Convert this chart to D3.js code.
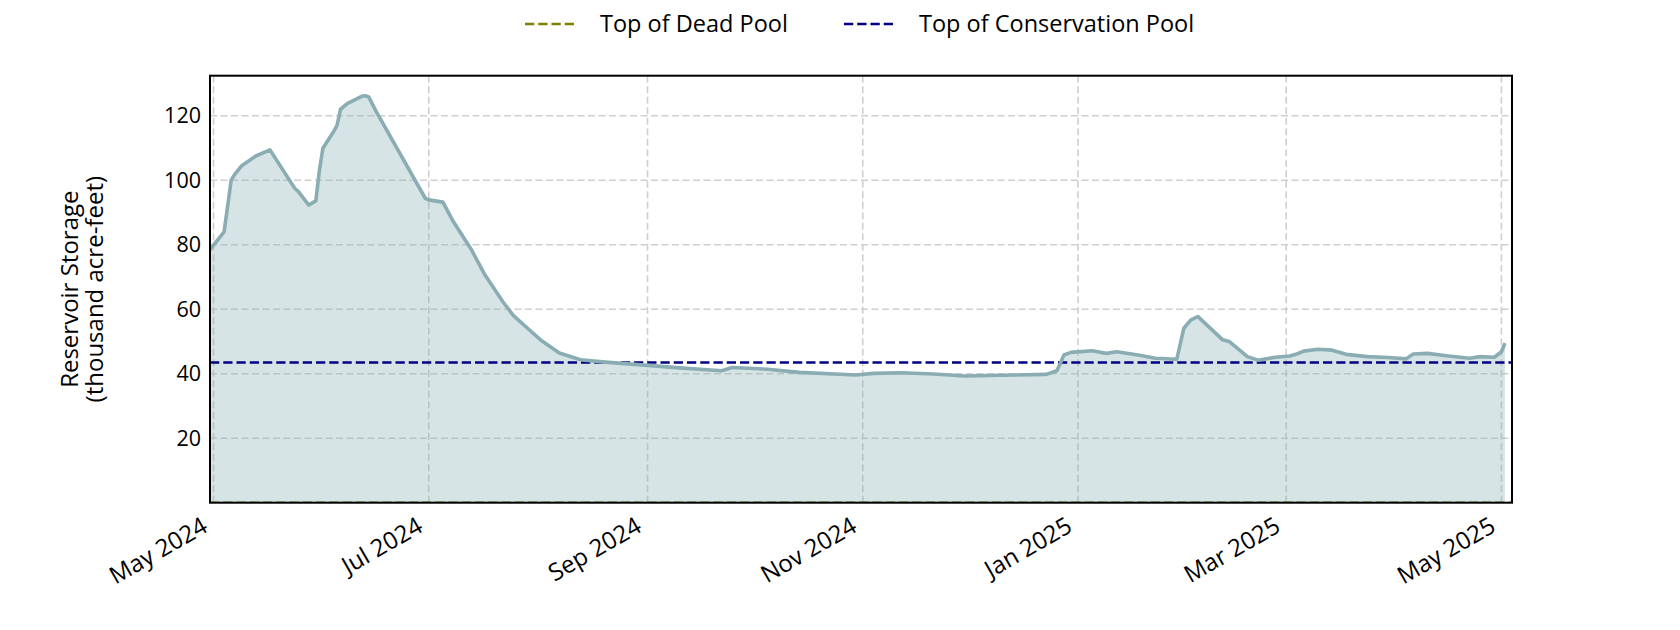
<!DOCTYPE html>
<html>
<head>
<meta charset="utf-8">
<script src="https://cdn.jsdelivr.net/npm/d3@7"></script>
<style>
  html, body { margin: 0; padding: 0; background: #fff; }
  svg { display: block; }
  text { font-family: "Open Sans", sans-serif; fill: #000; }
</style>
</head>
<body>
<svg id="chart" width="1680" height="630"></svg>
<script>
// ---- data ----
const dates = [
  "2024-04-30","2024-05-04","2024-05-06","2024-05-07","2024-05-09","2024-05-13","2024-05-17",
  "2024-05-24","2024-05-25","2024-05-28","2024-05-30","2024-05-31","2024-06-01","2024-06-04",
  "2024-06-05","2024-06-06","2024-06-08","2024-06-12","2024-06-13","2024-06-14","2024-06-16",
  "2024-06-30","2024-07-01","2024-07-05","2024-07-08","2024-07-13","2024-07-17","2024-07-22",
  "2024-07-25","2024-07-29","2024-08-02","2024-08-07","2024-08-13","2024-08-20","2024-09-02",
  "2024-09-10","2024-09-22","2024-09-25","2024-10-05","2024-10-14","2024-10-30","2024-11-04",
  "2024-11-12","2024-11-21","2024-11-30","2024-12-10","2024-12-23","2024-12-26","2024-12-27",
  "2024-12-28","2024-12-30","2025-01-05","2025-01-09","2025-01-12","2025-01-18","2025-01-23",
  "2025-01-29","2025-01-31","2025-02-02","2025-02-04","2025-02-11","2025-02-13","2025-02-18",
  "2025-02-21","2025-02-26","2025-03-02","2025-03-04","2025-03-06","2025-03-10","2025-03-14",
  "2025-03-18","2025-03-24","2025-03-30","2025-04-04","2025-04-06","2025-04-10","2025-04-16",
  "2025-04-22","2025-04-25","2025-04-29","2025-05-01","2025-05-02"
];
const storage = [
  78.5, 84.0, 100.0, 101.8, 104.5, 107.5, 109.4,
  97.5, 96.5, 92.3, 93.6, 103.0, 109.9, 115.0,
  117.0, 122.0, 123.8, 126.0, 126.2, 125.8, 121.5,
  94.4, 93.9, 93.2, 87.1, 78.6, 70.5, 62.3,
  58.0, 54.1, 50.2, 46.4, 44.3, 43.6, 42.5,
  41.8, 40.9, 41.9, 41.4, 40.4, 39.6, 40.1,
  40.3, 39.9, 39.3, 39.5, 39.8, 40.9, 43.2,
  45.8, 46.6, 47.1, 46.3, 46.8, 45.8, 44.8,
  44.5, 54.1, 56.7, 57.7, 50.5, 49.9, 45.3,
  44.2, 45.1, 45.5, 46.1, 47.0, 47.6, 47.3,
  46.0, 45.3, 45.0, 44.6, 46.1, 46.3, 45.5,
  44.8, 45.3, 45.1, 46.8, 49.5
];
const deadPool = 0;
const conservationPool = 43.5;
const yTicks = [20, 40, 60, 80, 100, 120];
const xDomain = ["2024-04-30", "2025-05-04"];
const yDomain = [0, 132.4];
const legendLabels = ["Top of Dead Pool", "Top of Conservation Pool"];
const yLabelLines = ["Reservoir Storage", "(thousand acre-feet)"];

// ---- layout ----
const svg = d3.select("#chart");
const pL = 210, pR = 1512, pT = 75.7, pB = 502.7;
const parse = d3.utcParse("%Y-%m-%d");
const data = dates.map((d, i) => ({ date: parse(d), value: storage[i] }));

const x = d3.scaleUtc().domain(xDomain.map(parse)).range([pL, pR]);
const y = d3.scaleLinear().domain(yDomain).range([pB, pT]);

svg.append("defs").append("clipPath").attr("id", "clip")
  .append("rect").attr("x", pL).attr("y", pT).attr("width", pR - pL).attr("height", pB - pT);

// grid
const xTicks = x.ticks(d3.utcMonth.every(2));
const grid = svg.append("g");
grid.selectAll("line.gx").data(xTicks).join("line")
  .attr("x1", d => x(d)).attr("x2", d => x(d)).attr("y1", pT).attr("y2", pB)
  .attr("stroke", "#cfcfcf").attr("stroke-width", 1.6).attr("stroke-dasharray", "7,3.5");
grid.selectAll("line.gy").data(yTicks).join("line")
  .attr("x1", pL).attr("x2", pR).attr("y1", d => y(d)).attr("y2", d => y(d))
  .attr("stroke", "#cfcfcf").attr("stroke-width", 1.6).attr("stroke-dasharray", "7,3.5");

const plot = svg.append("g").attr("clip-path", "url(#clip)");

// area
const area = d3.area().x(d => x(d.date)).y0(y(0)).y1(d => y(d.value));
plot.append("path").datum(data).attr("d", area).attr("fill", "#8cb3b8").attr("fill-opacity", 0.35);

// pool lines
plot.append("line").attr("x1", pL).attr("x2", pR).attr("y1", y(deadPool)).attr("y2", y(deadPool))
  .attr("stroke", "#808000").attr("stroke-width", 2.5).attr("stroke-dasharray", "9.25,4");
plot.append("line").attr("x1", pL).attr("x2", pR).attr("y1", y(conservationPool)).attr("y2", y(conservationPool))
  .attr("stroke", "#000080").attr("stroke-width", 2.5).attr("stroke-dasharray", "9.25,4");

// storage line
const line = d3.line().x(d => x(d.date)).y(d => y(d.value));
plot.append("path").datum(data).attr("d", line).attr("fill", "none")
  .attr("stroke", "#8aadb3").attr("stroke-width", 3.6).attr("stroke-linejoin", "round");

// frame
svg.append("rect").attr("x", pL).attr("y", pT).attr("width", pR - pL).attr("height", pB - pT)
  .attr("fill", "none").attr("stroke", "#000").attr("stroke-width", 2);

// y tick labels
svg.append("g").selectAll("text").data(yTicks).join("text")
  .attr("x", pL - 9).attr("y", d => y(d)).attr("dy", "0.36em")
  .attr("text-anchor", "end").attr("font-size", 21.5).text(d => d);

// x tick labels
const fmt = d3.utcFormat("%b %Y");
svg.append("g").selectAll("text").data(xTicks).join("text")
  .attr("transform", d => `translate(${x(d) - 13},${pB + 13}) rotate(-30)`)
  .attr("dy", "0.72em").attr("text-anchor", "end").attr("font-size", 24).text(d => fmt(d));

// y label
const cy = (pT + pB) / 2;
yLabelLines.forEach((t, i) => {
  svg.append("text").attr("transform", `translate(${78 + i * 25},${cy}) rotate(-90)`)
    .attr("text-anchor", "middle").attr("font-size", 24).text(t);
});

// legend
const legend = svg.append("g");
const items = [
  { label: legendLabels[0], color: "#808000", x0: 525 },
  { label: legendLabels[1], color: "#000080", x0: 844 }
];
items.forEach(it => {
  legend.append("line").attr("x1", it.x0).attr("x2", it.x0 + 52).attr("y1", 24).attr("y2", 24)
    .attr("stroke", it.color).attr("stroke-width", 2.5).attr("stroke-dasharray", "9.25,4");
  legend.append("text").attr("x", it.x0 + 75).attr("y", 24).attr("dy", "0.36em")
    .attr("font-size", 23.5).text(it.label);
});
</script>
</body>
</html>
